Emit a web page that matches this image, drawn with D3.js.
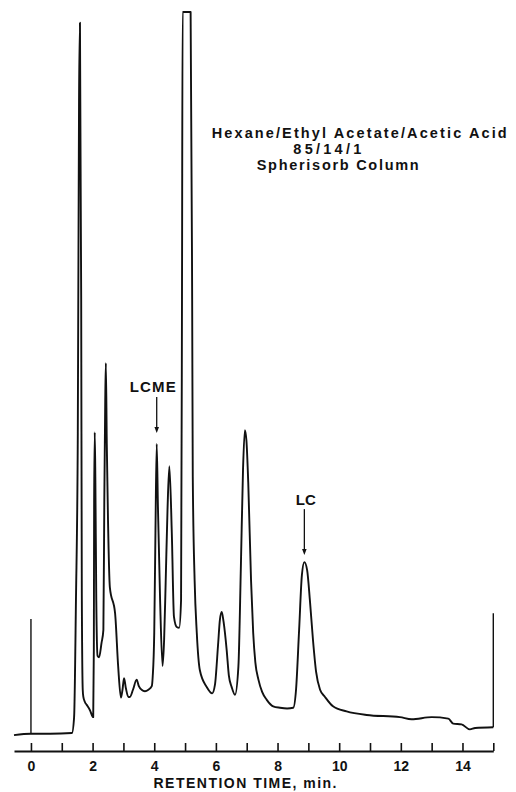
<!DOCTYPE html>
<html>
<head>
<meta charset="utf-8">
<script src="https://cdn.jsdelivr.net/npm/d3@7"></script>
<style>
  html, body { margin: 0; padding: 0; background: #fff; }
  svg { display: block; }
  text { font-family: "Liberation Sans", Arial, Helvetica, sans-serif; font-weight: bold; fill: #111; }
</style>
</head>
<body>
<svg id="chart" width="516" height="792"></svg>
<script>
// ---- data (retention time in min, detector response in % of full scale) ----
const times = [
  -0.55, 0.00, 0.62, 1.33, 1.40, 1.46, 1.52, 1.56, 1.59, 1.63, 1.65, 1.68, 1.70, 1.75, 1.81, 1.91,
  2.02, 2.04, 2.05, 2.07, 2.09, 2.12, 2.16, 2.21, 2.29, 2.35, 2.38, 2.41, 2.43, 2.46, 2.50, 2.56,
  2.73, 2.83, 2.92, 2.97, 3.02, 3.08, 3.16, 3.21, 3.31, 3.43, 3.50, 3.59, 3.70, 3.81, 3.92, 3.95,
  4.00, 4.04, 4.08, 4.12, 4.19, 4.27, 4.32, 4.37, 4.43, 4.49, 4.57, 4.64, 4.73, 4.81, 4.87, 4.90,
  4.92, 5.18, 5.23, 5.25, 5.31, 5.38, 5.48, 5.70, 5.88, 5.97, 6.07, 6.13, 6.19, 6.25, 6.35, 6.42,
  6.51, 6.62, 6.73, 6.81, 6.88, 6.94, 6.99, 7.05, 7.14, 7.21, 7.28, 7.38, 7.50, 7.65, 7.86, 8.08,
  8.31, 8.51, 8.60, 8.70, 8.79, 8.87, 8.96, 9.05, 9.15, 9.25, 9.38, 9.54, 9.80, 10.24, 10.89, 11.97,
  12.35, 13.00, 13.54, 13.70, 13.97, 14.24, 14.41, 15.00
];
const response = [
  -0.3, -0.1, -0.1, 0.0, 2.2, 18.4, 41.6, 87.8, 98.5, 60.1, 19.4, 6.0, 5.0, 4.3, 3.9, 3.2,
  2.2, 11.5, 32.3, 41.7, 35.1, 18.4, 10.7, 10.5, 12.5, 14.3, 32.3, 46.2, 51.3, 40.2, 29.5, 20.2,
  16.6, 9.2, 4.9, 6.0, 7.6, 6.2, 5.0, 5.0, 6.0, 7.4, 6.5, 6.0, 5.8, 6.0, 6.5, 7.8,
  13.9, 28.2, 40.1, 31.3, 18.4, 9.3, 12.9, 20.8, 30.9, 37.0, 27.7, 16.1, 14.7, 14.6, 18.4, 60.1,
  100.0, 100.0, 60.1, 35.5, 21.2, 13.9, 8.7, 6.4, 5.5, 6.7, 12.2, 15.7, 16.8, 15.4, 11.5, 8.0,
  6.4, 5.3, 9.2, 23.0, 36.5, 42.0, 40.6, 34.7, 21.2, 13.9, 9.8, 7.4, 5.7, 4.6, 3.7, 3.5,
  3.4, 3.5, 6.0, 14.3, 21.9, 23.7, 22.6, 18.4, 12.9, 8.5, 6.0, 5.0, 3.7, 3.0, 2.5, 2.2,
  1.9, 2.2, 2.0, 1.3, 1.2, 0.5, 0.7, 0.8
];
// injection / end markers (time, marker top in % full scale)
const markerTimes = [0, 15];
const markerTops = [15.8, 16.6];
// axis ticks
const tickValues = d3.range(0, 16);
const tickLabels = ["0", "", "2", "", "4", "", "6", "", "8", "", "10", "", "12", "", "14", ""];
// annotations
const annotLabels = ["LCME", "LC"];
const annotTimes = [4.08, 8.87];
// conditions text
const conditionLines = ["Hexane/Ethyl Acetate/Acetic Acid", "85/14/1", "Spherisorb Column"];
const axisTitle = "RETENTION TIME, min.";

// ---- layout ----
const svg = d3.select("#chart");
const x = d3.scaleLinear().domain([-0.55, 15]).range([14, 493.3]);
const y = d3.scaleLinear().domain([0, 100]).range([733, 12]);
const ink = "#111";

const trace = times.map((t, i) => ({ t, v: response[i] }));

// trace
svg.append("path")
  .datum(trace)
  .attr("fill", "none")
  .attr("stroke", ink)
  .attr("stroke-width", 1.9)
  .attr("stroke-linejoin", "round")
  .attr("d", d3.line().x(d => x(d.t)).y(d => y(d.v)).curve(d3.curveMonotoneX));

// markers
const traceAt = t => {
  const i = d3.bisector(d => d.t).left(trace, t);
  return trace[Math.min(i, trace.length - 1)].v;
};
markerTimes.forEach((t, i) => {
  svg.append("line")
    .attr("x1", x(t)).attr("x2", x(t))
    .attr("y1", y(Math.max(0, traceAt(t)))).attr("y2", y(markerTops[i]))
    .attr("stroke", ink).attr("stroke-width", 1.4);
});

// axis
const axis = d3.axisBottom(x)
  .tickValues(tickValues)
  .tickFormat((d, i) => tickLabels[i])
  .tickSizeInner(-8)
  .tickSizeOuter(0)
  .tickPadding(20);
const gAxis = svg.append("g").attr("transform", "translate(0,751)").call(axis);
gAxis.select(".domain").attr("stroke", ink).attr("stroke-width", 2);
gAxis.selectAll(".tick line").attr("stroke", ink).attr("stroke-width", 1.6);
gAxis.selectAll(".tick text")
  .attr("fill", ink)
  .style("font-family", "'Liberation Sans', Arial, sans-serif")
  .style("font-weight", "bold")
  .style("font-size", "14px")
  .attr("dy", "0");

svg.append("text")
  .attr("x", 245).attr("y", 788)
  .attr("text-anchor", "middle")
  .attr("font-size", 14)
  .attr("textLength", 183).attr("lengthAdjust", "spacing")
  .text(axisTitle);

// conditions
const condX = [211.7, 293.3, 256.7];
const condY = [138, 154, 170];
const condW = [295, 68, 162];
conditionLines.forEach((s, i) => {
  svg.append("text")
    .attr("x", condX[i]).attr("y", condY[i])
    .attr("font-size", 14.5)
    .attr("textLength", condW[i]).attr("lengthAdjust", "spacing")
    .text(s);
});

// annotations with arrows
const arrowGap = [11, 7];     // px gap between arrow tip and peak
const arrowLen = [36, 46];    // px arrow length
const labelDx = [-4, 1.5];
const labelW = [46, 20];
annotLabels.forEach((lab, i) => {
  const t = annotTimes[i];
  const px = x(t);
  const peakY = y(traceAt(t));
  const tip = peakY - arrowGap[i];
  const top = tip - arrowLen[i];
  svg.append("line")
    .attr("x1", px).attr("x2", px)
    .attr("y1", top).attr("y2", tip - 5)
    .attr("stroke", ink).attr("stroke-width", 1.3);
  svg.append("path")
    .attr("d", `M${px - 2.3},${tip - 6} L${px + 2.3},${tip - 6} L${px},${tip} Z`)
    .attr("fill", ink);
  svg.append("text")
    .attr("x", px + labelDx[i]).attr("y", top - 4.5)
    .attr("text-anchor", "middle")
    .attr("font-size", 15)
    .attr("textLength", labelW[i]).attr("lengthAdjust", "spacing")
    .text(lab);
});
</script>
</body>
</html>
